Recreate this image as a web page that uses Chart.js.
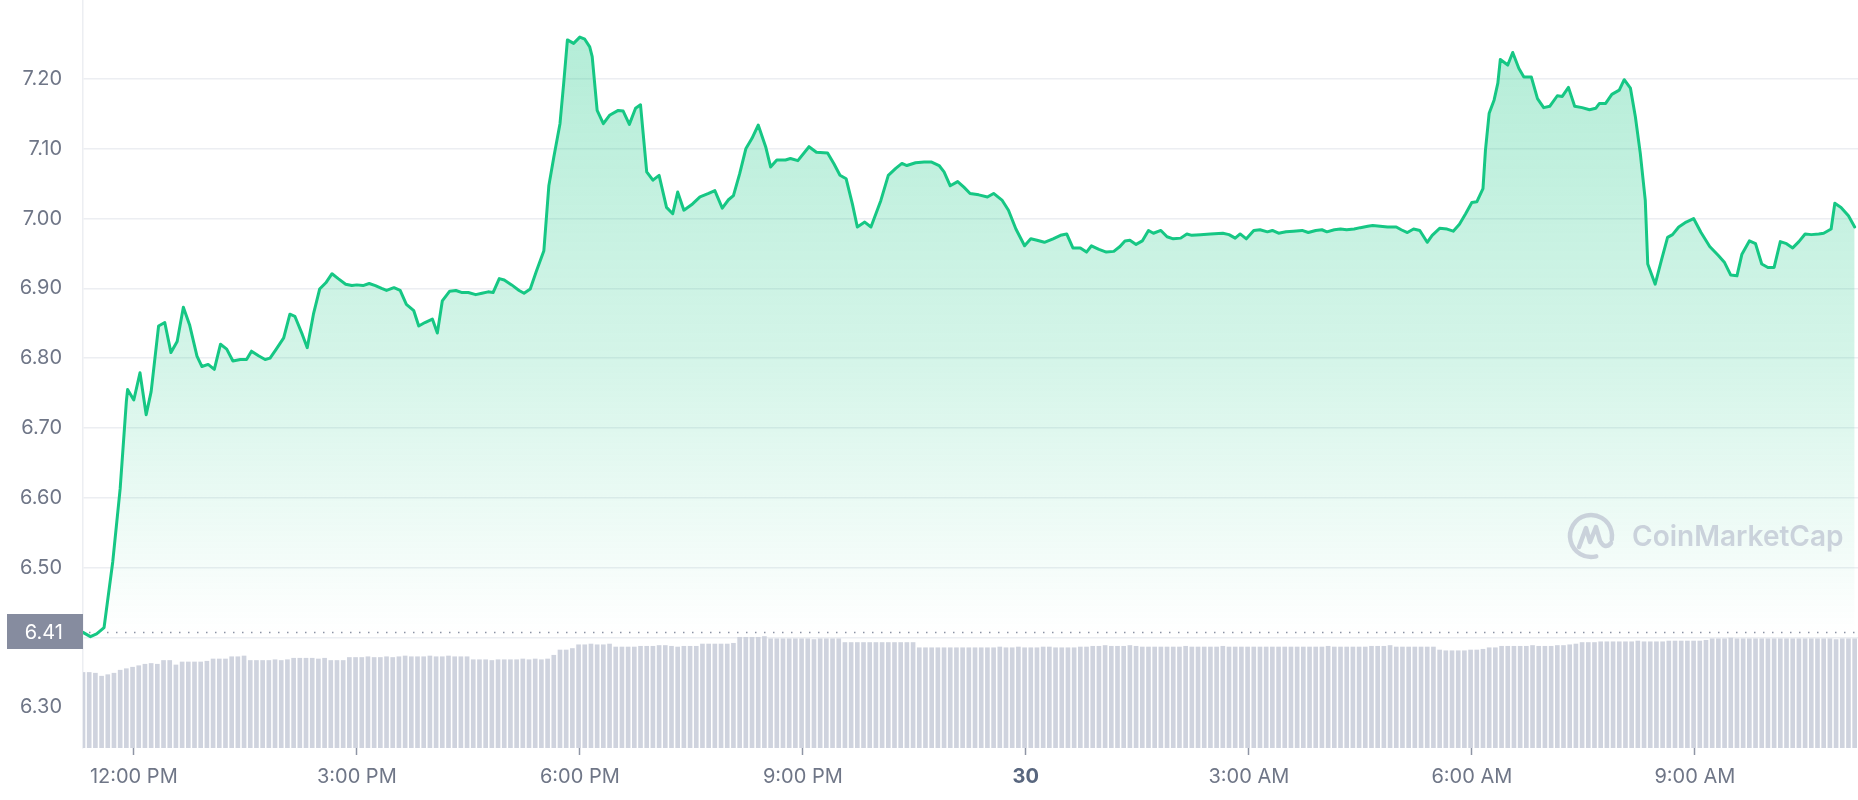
<!DOCTYPE html>
<html>
<head>
<meta charset="utf-8">
<script src="https://cdn.jsdelivr.net/npm/chart.js@4.4.1/dist/chart.umd.min.js"></script>
<style>
  html, body { margin: 0; padding: 0; background: #ffffff; }
  #wrap { width: 1858px; height: 800px; position: relative; }
</style>
</head>
<body>
<div id="wrap"><canvas id="c" width="1858" height="800"></canvas></div>
<script>
// ---- DATA ----
// Time axis: minutes after 11:19 AM (day 29)
const tickMinutes = [41, 221, 401, 581, 761, 941, 1121, 1301];
const tickLabels = ["12:00 PM", "3:00 PM", "6:00 PM", "9:00 PM", "30", "3:00 AM", "6:00 AM", "9:00 AM"];
const yTicks = [6.30, 6.40, 6.50, 6.60, 6.70, 6.80, 6.90, 7.00, 7.10, 7.20];
const openPrice = 6.407;

const priceTimes = [
  0, 6, 11, 17, 24, 30, 35, 36, 41, 46, 51, 55, 61, 66, 71, 76, 81, 86, 92, 96,
  101, 106, 111, 116, 121, 127, 132, 136, 142, 147, 151, 156, 162, 167, 171, 177, 181, 186, 191, 196,
  201, 206, 212, 217, 221, 226, 231, 236, 241, 245, 251, 256, 261, 267, 271, 276, 282, 286, 290, 296,
  301, 306, 311, 317, 322, 327, 331, 336, 340, 346, 352, 356, 361, 366, 372, 376, 380, 385, 388, 391,
  396, 401, 405, 409, 411, 415, 420, 425, 432, 436, 441, 446, 450, 455, 460, 465, 471, 476, 480, 485,
  492, 498, 505, 510, 516, 521, 525, 530, 535, 540, 545, 551, 555, 560, 567, 571, 577, 586, 592, 601,
  606, 611, 616, 621, 625, 631, 636, 644, 650, 656, 661, 665, 672, 679, 685, 691, 695, 700, 706, 711,
  716, 723, 730, 735, 742, 747, 753, 760, 765, 770, 776, 783, 789, 794, 799, 805, 810, 814, 820, 826,
  832, 837, 841, 845, 850, 855, 860, 864, 870, 875, 880, 886, 891, 895, 902, 910, 920, 925, 930, 934,
  939, 945, 950, 956, 960, 965, 971, 977, 984, 989, 995, 1000, 1004, 1010, 1015, 1020, 1026, 1031, 1037, 1041,
  1047, 1053, 1060, 1064, 1069, 1074, 1079, 1085, 1089, 1095, 1101, 1106, 1111, 1116, 1121, 1125, 1130, 1132, 1135, 1139,
  1142, 1144, 1150, 1154, 1159, 1163, 1169, 1174, 1179, 1184, 1190, 1194, 1199, 1204, 1210, 1216, 1221, 1224, 1229, 1234,
  1240, 1244, 1249, 1253, 1257, 1261, 1263, 1269, 1274, 1279, 1283, 1288, 1294, 1300, 1306, 1313, 1320, 1325, 1330, 1335,
  1339, 1345, 1350, 1355, 1360, 1365, 1370, 1375, 1380, 1385, 1390, 1395, 1401, 1405, 1411, 1414, 1419, 1425, 1430
];
const priceValues = [
  6.407, 6.401, 6.405, 6.414, 6.508, 6.613, 6.738, 6.755, 6.740, 6.779, 6.719, 6.752, 6.846, 6.851, 6.808, 6.824, 6.873, 6.848, 6.803, 6.788,
  6.791, 6.784, 6.820, 6.813, 6.796, 6.798, 6.798, 6.810, 6.803, 6.798, 6.800, 6.813, 6.829, 6.863, 6.860, 6.834, 6.815, 6.863, 6.899, 6.908,
  6.921, 6.914, 6.906, 6.904, 6.905, 6.904, 6.907, 6.904, 6.900, 6.897, 6.901, 6.897, 6.877, 6.868, 6.846, 6.851, 6.856, 6.836, 6.882, 6.896,
  6.897, 6.894, 6.894, 6.891, 6.893, 6.895, 6.894, 6.914, 6.912, 6.905, 6.897, 6.893, 6.899, 6.925, 6.954, 7.047, 7.088, 7.136, 7.194, 7.256,
  7.251, 7.260, 7.257, 7.246, 7.232, 7.155, 7.136, 7.148, 7.155, 7.154, 7.135, 7.158, 7.163, 7.067, 7.055, 7.062, 7.016, 7.007, 7.038, 7.012,
  7.021, 7.031, 7.036, 7.040, 7.015, 7.027, 7.033, 7.064, 7.100, 7.115, 7.134, 7.103, 7.074, 7.084, 7.084, 7.086, 7.083, 7.103, 7.095, 7.094,
  7.079, 7.062, 7.057, 7.021, 6.988, 6.995, 6.988, 7.026, 7.062, 7.072, 7.079, 7.076, 7.080, 7.081, 7.081, 7.076, 7.067, 7.047, 7.053, 7.045,
  7.036, 7.034, 7.031, 7.036, 7.026, 7.012, 6.985, 6.961, 6.971, 6.969, 6.966, 6.971, 6.976, 6.978, 6.958, 6.958, 6.952, 6.961, 6.956, 6.952,
  6.953, 6.960, 6.968, 6.969, 6.963, 6.968, 6.983, 6.979, 6.983, 6.974, 6.971, 6.972, 6.978, 6.976, 6.977, 6.978, 6.979, 6.977, 6.972, 6.978,
  6.971, 6.983, 6.984, 6.981, 6.983, 6.979, 6.981, 6.982, 6.983, 6.980, 6.983, 6.984, 6.981, 6.984, 6.985, 6.984, 6.985, 6.987, 6.989, 6.990,
  6.989, 6.988, 6.988, 6.984, 6.980, 6.985, 6.983, 6.966, 6.976, 6.986, 6.985, 6.982, 6.992, 7.007, 7.023, 7.024, 7.043, 7.098, 7.151, 7.170,
  7.194, 7.228, 7.220, 7.238, 7.215, 7.203, 7.203, 7.172, 7.159, 7.161, 7.176, 7.175, 7.188, 7.161, 7.159, 7.156, 7.158, 7.165, 7.165, 7.178,
  7.184, 7.199, 7.187, 7.146, 7.093, 7.026, 6.935, 6.906, 6.940, 6.973, 6.977, 6.988, 6.995, 7.000, 6.980, 6.960, 6.947, 6.937, 6.919, 6.918,
  6.949, 6.968, 6.964, 6.935, 6.930, 6.930, 6.967, 6.964, 6.958, 6.967, 6.978, 6.977, 6.978, 6.979, 6.985, 7.022, 7.016, 7.004, 6.988
];

// Volume, one bar every 5 minutes (relative units)
const volumeStepMinutes = 5;
const volumeValues = [
  101,101,100,96,98,100,104,106,108,110,112,113,
  112,117,117,111,115,115,115,115,116,119,119,119,
  122,122,123,117,117,117,117,118,117,118,120,120,
  120,120,119,120,117,117,117,121,121,121,122,121,
  121,122,121,122,123,122,122,122,123,122,122,123,
  122,122,122,118,118,118,117,118,118,118,118,119,
  118,119,118,119,124,131,131,133,138,138,139,138,
  138,139,135,135,135,135,136,136,136,137,137,136,
  135,136,136,136,139,139,139,139,139,140,148,148,
  148,148,149,146,146,146,146,146,146,146,145,146,
  146,146,146,141,141,141,141,141,141,141,141,141,
  141,141,141,134,134,134,134,134,134,134,134,134,
  134,134,134,134,135,134,134,135,134,134,134,135,
  135,134,134,134,134,135,135,136,136,137,136,136,
  136,137,136,135,135,135,135,135,135,135,136,135,
  135,135,135,135,136,135,135,135,135,135,135,135,
  135,135,135,135,135,135,135,135,135,136,135,135,
  135,135,135,135,136,136,136,137,135,135,135,135,
  135,135,135,131,130,130,130,130,131,131,132,134,
  134,136,136,136,136,136,137,136,136,136,137,137,
  138,139,141,141,141,142,142,142,142,142,142,143,
  142,142,142,142,143,143,143,143,143,143,144,146,
  146,146,147,146,146,146,146,146,146,146,146,146,
  146,146,146,146,146,146,146,145,146,146,146
];

// ---- BUILD ----
const pricePoints = priceTimes.map((t, i) => ({ x: t, y: priceValues[i] }));
const volumePoints = volumeValues.map((v, i) => ({ x: i * volumeStepMinutes, y: v }));

const GREEN = '#16c784';
const LABEL_GRAY = '#6f7687';
const FONT = 'Inter, "Noto Sans", sans-serif';

const openLinePlugin = {
  id: 'openLine',
  beforeDatasetsDraw(chart) {
    const { ctx, chartArea, scales } = chart;
    const y = Math.round(scales.y.getPixelForValue(openPrice)) + 0.5;
    ctx.save();
    ctx.strokeStyle = '#8c93a5';
    ctx.lineWidth = 1.5;
    ctx.setLineDash([1.5, 7.5]);
    ctx.beginPath();
    ctx.moveTo(chartArea.left + 6, y);
    ctx.lineTo(chartArea.right, y);
    ctx.stroke();
    ctx.restore();
  },
  afterDatasetsDraw(chart) {
    // watermark
    const { ctx, chartArea } = chart;
    ctx.save();
    const cx = chartArea.right - 267, cy = 536;
    ctx.strokeStyle = 'rgba(190,196,210,0.75)';
    ctx.lineWidth = 4.5;
    ctx.lineCap = 'round';
    ctx.lineJoin = 'round';
    ctx.beginPath();
    ctx.arc(cx, cy, 21, Math.PI * 0.42, Math.PI * 2.05, false);
    ctx.stroke();
    ctx.beginPath();
    ctx.moveTo(cx - 12, cy + 11);
    ctx.lineTo(cx - 5, cy - 8);
    ctx.lineTo(cx - 1, cy + 6);
    ctx.lineTo(cx + 5, cy - 9);
    ctx.lineTo(cx + 9, cy + 5);
    ctx.quadraticCurveTo(cx + 14, cy + 14, cx + 20, cy + 7);
    ctx.stroke();
    ctx.fillStyle = 'rgba(190,196,210,0.75)';
    ctx.font = '600 28px ' + FONT;
    ctx.textAlign = 'left';
    ctx.textBaseline = 'middle';
    ctx.fillText('CoinMarketCap', cx + 41, cy + 2);
    ctx.restore();
  },
  afterDraw(chart) {
    const { ctx, chartArea, scales } = chart;
    const y = scales.y.getPixelForValue(openPrice);
    ctx.save();
    ctx.fillStyle = '#868c9f';
    ctx.fillRect(7, Math.round(y) - 18, chartArea.left - 7, 35);
    ctx.fillStyle = '#ffffff';
    ctx.font = '20px ' + FONT;
    ctx.textAlign = 'right';
    ctx.textBaseline = 'middle';
    ctx.fillText(openPrice.toFixed(2), chartArea.left - 20, Math.round(y) + 1);
    ctx.restore();
  }
};

new Chart(document.getElementById('c'), {
  type: 'line',
  data: {
    datasets: [
      {
        type: 'line',
        label: 'Price',
        data: pricePoints,
        yAxisID: 'y',
        borderColor: GREEN,
        borderWidth: 3,
        borderJoinStyle: 'round',
        borderCapStyle: 'round',
        pointRadius: 0,
        tension: 0,
        fill: { value: openPrice },
        backgroundColor: (context) => {
          const chart = context.chart;
          const { ctx, chartArea, scales } = chart;
          if (!chartArea) return 'rgba(22,199,132,0.2)';
          const base = scales.y.getPixelForValue(openPrice);
          const top = scales.y.getPixelForValue(Math.max(...priceValues));
          const g = ctx.createLinearGradient(0, top, 0, base);
          g.addColorStop(0, 'rgba(22,199,132,0.32)');
          g.addColorStop(0.55, 'rgba(22,199,132,0.18)');
          g.addColorStop(1, 'rgba(22,199,132,0.0)');
          return g;
        },
        order: 1
      },
      {
        type: 'bar',
        label: 'Volume',
        data: volumePoints,
        yAxisID: 'y2',
        backgroundColor: '#cfd3de',
        barThickness: 4,
        order: 2
      }
    ]
  },
  options: {
    responsive: false,
    animation: false,
    layout: { padding: 0 },
    plugins: { legend: { display: false }, tooltip: { enabled: false } },
    scales: {
      x: {
        type: 'linear',
        min: 0,
        max: 1432.7,
        offset: false,
        grid: { offset: false, drawOnChartArea: false, drawTicks: true, tickLength: 7, tickColor: '#8f95a5', tickWidth: 1.5 },
        border: { display: false },
        afterBuildTicks: (s) => { s.ticks = tickMinutes.map(v => ({ value: v })); },
        afterFit: (s) => { s.height = 52; s.paddingLeft = 0; s.paddingRight = 0; },
        ticks: {
          autoSkip: false,
          maxRotation: 0,
          padding: 10,
          callback: (v, i) => tickLabels[i],
          color: (c) => c.tick && tickLabels[c.index] === '30' ? '#58667e' : LABEL_GRAY,
          font: (c) => (c.tick && tickLabels[c.index] === '30')
            ? { family: FONT, size: 20, weight: 'bold' }
            : { family: FONT, size: 20, weight: 'normal' }
        }
      },
      y: {
        type: 'linear',
        position: 'left',
        min: 6.2414,
        max: 7.3132,
        grid: {
          drawTicks: false,
          color: (c) => (c.tick && c.tick.value < 6.35) ? 'rgba(0,0,0,0)' : '#eceef2',
          lineWidth: 1.5
        },
        border: { display: true, color: '#eceef2', width: 1.5 },
        afterBuildTicks: (s) => { s.ticks = yTicks.map(v => ({ value: v })); },
        afterFit: (s) => { s.width = 83; s.paddingTop = 0; s.paddingBottom = 0; },
        ticks: {
          padding: 21,
          color: LABEL_GRAY,
          font: { family: FONT, size: 20 },
          callback: (v) => Math.abs(v - 6.40) < 1e-6 ? '' : v.toFixed(2)
        }
      },
      y2: {
        type: 'linear',
        display: false,
        min: 0,
        max: 1000
      }
    }
  },
  plugins: [openLinePlugin]
});
</script>
</body>
</html>
